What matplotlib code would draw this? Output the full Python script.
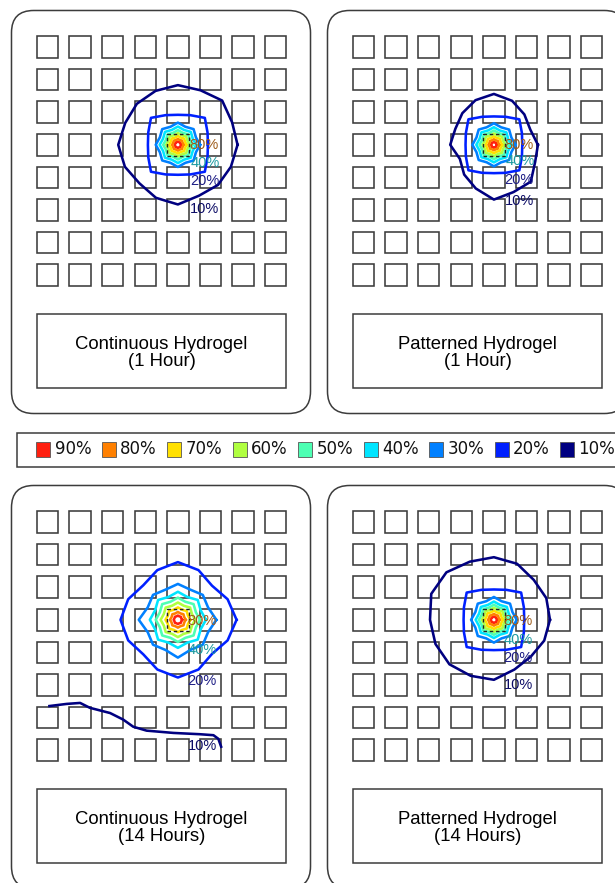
import numpy as np
import matplotlib
matplotlib.use("Agg")
import matplotlib.pyplot as plt
from matplotlib.patches import FancyBboxPatch, Rectangle

# ---------------------------------------------------------------- data
levels = [90, 80, 70, 60, 50, 40, 30, 20, 10]
level_colors = ["#ff2010", "#ff8000", "#ffe000", "#b0ff40", "#4dffb3",
                "#00e5ff", "#0080ff", "#0020ff", "#000080"]
legend_labels = ["90%", "80%", "70%", "60%", "50%", "40%", "30%", "20%", "10%"]

labeled_levels = [80, 40, 20, 10]
label_text_colors = {80: "#9c5a18", 40: "#1b9aa0", 20: "#1c1c84", 10: "#0c0c66"}

titles = ["Continuous Hydrogel\n(1 Hour)", "Patterned Hydrogel\n(1 Hour)",
          "Continuous Hydrogel\n(14 Hours)", "Patterned Hydrogel\n(14 Hours)"]

n_rows, n_cols = 8, 8
source_col, source_row = 4, 3          # well that receives the dose

# radius multipliers for 16 directions, counter-clockwise from east
STAR = [1.0, 0.88] * 8
ROUND_SQUARE = [1.0, 1.07, 1.27, 1.07] * 4

# iso-concentration radii (well pitches) for 90% ... 30%
p1_inner = [0.10, 0.18, 0.27, 0.36, 0.45, 0.56, 0.68]
p2_inner = [0.09, 0.17, 0.26, 0.35, 0.44, 0.54, 0.66]
p3_inner = [0.13, 0.24, 0.38, 0.53, 0.68, 0.86]
p4_inner = [0.10, 0.18, 0.28, 0.37, 0.46, 0.56, 0.70]

# 20% iso-line
p1_r20 = 0.92
p2_r20 = 0.87
p4_r20 = 0.93
p3_r30 = [1.18, 1.00, 1.08, 1.00, 1.10, 1.00, 1.08, 1.00,
          1.20, 1.00, 1.08, 1.00, 1.16, 1.00, 1.08, 1.00]
p3_r20 = [1.80, 1.65, 1.48, 1.65, 1.77, 1.65, 1.50, 1.65,
          1.76, 1.65, 1.50, 1.65, 1.77, 1.65, 1.48, 1.65]

# 10% iso-line, 16 directions
p1_r10 = [1.83, 1.80, 1.92, 1.81, 1.83, 1.79, 1.78, 1.75,
          1.83, 1.76, 1.67, 1.76, 1.83, 1.69, 1.74, 1.76]
p2_r10 = [1.35, 1.21, 1.32, 1.46, 1.56, 1.48, 1.37, 1.28,
          1.34, 1.13, 1.29, 1.45, 1.68, 1.57, 1.60, 1.37]
p4_r10 = [1.72, 1.74, 1.73, 1.86, 1.92, 1.93, 2.06, 2.08,
          1.96, 1.94, 1.93, 1.86, 1.84, 1.65, 1.60, 1.67]

# open 10% iso-line reaching the lower edge (continuous gel, 14 h)
p3_open10_x = [0.02, 0.59, 1.00, 1.30, 1.92, 2.32, 2.63, 3.04, 3.86, 4.68, 5.09, 5.24, 5.34]
p3_open10_y = [5.65, 5.58, 5.55, 5.70, 5.86, 6.06, 6.28, 6.40, 6.47, 6.51, 6.54, 6.65, 6.93]

# ---------------------------------------------------------------- layout
W, H, DPI = 615, 883, 100
PITCH = 32.6                     # px per well pitch
WELL = 0.662                     # well side in pitches
PANEL_W, PANEL_H = 300, 404
panel_origin = [(11, 10), (327, 10), (11, 485), (327, 485)]   # top-left px
first_well = (36.5, 37.0)        # centre of well (0,0) relative to panel edge

fig = plt.figure(figsize=(W / DPI, H / DPI), dpi=DPI)
fig.patch.set_facecolor("white")

EDGE = "#3c3c3c"
LW_LINE = 1.85


def ring_xy(cx, cy, radii):
    radii = np.asarray(radii, dtype=float)
    ang = np.deg2rad(np.arange(len(radii)) * 360.0 / len(radii))
    x = cx + radii * np.cos(ang)
    y = cy - radii * np.sin(ang)
    return np.append(x, x[0]), np.append(y, y[0])


def draw_panel(idx, rings, open_line, label_pos):
    x0, y0 = panel_origin[idx]
    ax = fig.add_axes([x0 / W, 1 - (y0 + PANEL_H) / H, PANEL_W / W, PANEL_H / H])
    ax.set_axis_off()
    left = -first_well[0] / PITCH
    top = -first_well[1] / PITCH
    ax.set_xlim(left, left + PANEL_W / PITCH)
    ax.set_ylim(top + PANEL_H / PITCH, top)

    # rounded outer frame
    pad = 0.015
    frame = FancyBboxPatch((left + pad + 0.68, top + pad + 0.68),
                           PANEL_W / PITCH - 2 * pad - 1.36,
                           PANEL_H / PITCH - 2 * pad - 1.36,
                           boxstyle="round,pad=0.68",
                           fc="white", ec=EDGE, lw=1.1, clip_on=False, zorder=0)
    ax.add_patch(frame)

    # wells
    for r in range(n_rows):
        for c in range(n_cols):
            dashed = (c == source_col and r == source_row)
            ax.add_patch(Rectangle((c - WELL / 2, r - WELL / 2), WELL, WELL,
                                   fc="none", ec="#222222" if dashed else EDGE,
                                   lw=1.0 if dashed else 1.15,
                                   ls=(0, (2.5, 2.0)) if dashed else "-",
                                   zorder=4 if dashed else 1))

    # title box
    ax.add_patch(Rectangle((-WELL / 2, 8.2), 7 + WELL, 2.25, fc="white",
                           ec=EDGE, lw=1.1, zorder=1))
    ax.text(3.5, 9.38, titles[idx], ha="center", va="center",
            fontsize=13.3, family="Liberation Sans", linespacing=1.0,
            color="black", zorder=2)

    # iso-concentration lines
    for lev, radii in rings:
        col = level_colors[levels.index(lev)]
        xs, ys = ring_xy(source_col, source_row, radii)
        ax.plot(xs, ys, color=col, lw=LW_LINE, solid_joinstyle="round", zorder=3)
    if open_line is not None:
        ax.plot(open_line[0], open_line[1], color=level_colors[-1], lw=LW_LINE,
                solid_capstyle="butt", zorder=3)

    for lev, (dx, dy) in zip(labeled_levels, label_pos):
        ax.text(source_col + dx, source_row + dy, f"{lev}%", ha="center",
                va="center", fontsize=10.5, family="Liberation Sans",
                color=label_text_colors[lev], zorder=5)
    return ax


def inner_rings(radii, r20=None):
    out = []
    for lev, r in zip(levels, radii):
        out.append((lev, np.array(STAR) * r))
    if r20 is not None:
        out.append((20, np.array(ROUND_SQUARE) * r20))
    return out


draw_panel(0, inner_rings(p1_inner, p1_r20) + [(10, p1_r10)], None,
           [(0.80, 0.0), (0.83, 0.55), (0.83, 1.10), (0.83, 1.96)])
draw_panel(1, inner_rings(p2_inner, p2_r20) + [(10, p2_r10)], None,
           [(0.77, 0.0), (0.80, 0.50), (0.77, 1.07), (0.77, 1.72)])
draw_panel(2, inner_rings(p3_inner) + [(30, p3_r30), (20, p3_r20)],
           (p3_open10_x, p3_open10_y),
           [(0.75, 0.05), (0.75, 0.92), (0.75, 1.87), (0.75, 3.88)])
draw_panel(3, inner_rings(p4_inner, p4_r20) + [(10, p4_r10)], None,
           [(0.75, 0.05), (0.75, 0.61), (0.75, 1.17), (0.75, 1.99)])

# ---------------------------------------------------------------- legend strip
lax = fig.add_axes([0, 0, 1, 1], zorder=-1)
lax.set_xlim(0, W)
lax.set_ylim(H, 0)
lax.set_axis_off()
lax.add_patch(Rectangle((17, 432.5), 640, 34, fc="white", ec=EDGE, lw=1.1))
for i, (col, lab) in enumerate(zip(level_colors, legend_labels)):
    x = 36 + i * 65.5
    lax.add_patch(Rectangle((x, 441.5), 14, 15, fc=col, ec="#555555", lw=0.6))
    lax.text(x + 18.5, 449.5, lab, ha="left", va="center", fontsize=12,
             family="DejaVu Sans", color="#111111")

fig.savefig("out.png", dpi=DPI, facecolor="white")
